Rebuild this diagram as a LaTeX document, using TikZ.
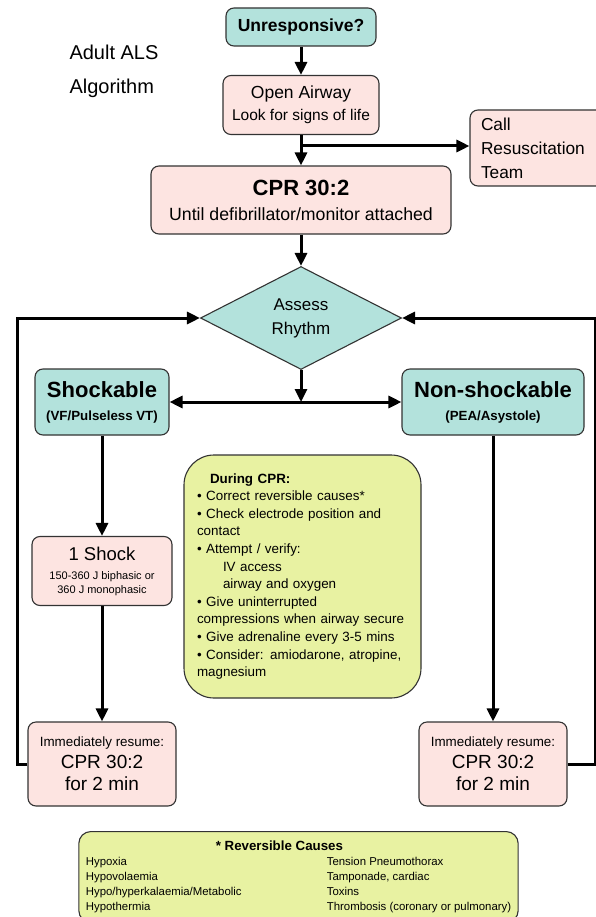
\documentclass[tikz,border=0pt]{standalone}
\usepackage{fontspec}
\setmainfont{Liberation Sans}
\usepackage{xcolor}
\usetikzlibrary{arrows.meta, shapes.geometric}
\definecolor{tealbox}{HTML}{B3E2DC}
\definecolor{pinkbox}{HTML}{FDE4E1}
\definecolor{limebox}{HTML}{E8F2A2}
\definecolor{rim}{HTML}{333333}

\begin{document}
\begin{tikzpicture}[x=1pt,y=-1pt]
	\tikzset{box/.style = {draw=rim, line width=1.1pt, rounded corners=8pt, inner sep=0pt, align=center}}
	\tikzset{tealnode/.style = {box, fill=tealbox}}
	\tikzset{pinknode/.style = {box, fill=pinkbox}}
	\tikzset{limenode/.style = {box, fill=limebox}}
	\tikzset{edge/.style = {line width=3pt, -{Triangle[length=13pt,width=12pt]}}}

	\useasboundingbox (0,0) rectangle (596,917);

	\node[anchor=west, font=\fontsize{20}{24}\selectfont] (Title_1) at (66,52) {Adult ALS};
	\node[anchor=west, font=\fontsize{20}{24}\selectfont] (Title_2) at (66,88) {Algorithm};

	\node[tealnode, minimum width=150pt, minimum height=38pt, font=\bfseries\fontsize{17.5}{20}\selectfont] (Unresp) at (301,27) {Unresponsive?};
	\node[pinknode, minimum width=156pt, minimum height=59pt, font=\fontsize{15.5}{22}\selectfont] (Airway) at (301,105) {{\fontsize{17.5}{22}\selectfont Open Airway}\\Look for signs of life};
	\node[pinknode, minimum height=76pt, text width=115pt, inner xsep=11pt, align=left, font=\fontsize{17.3}{24}\selectfont] (Call) at (538.5,148) {Call\\Resuscitation\\Team};
	\node[pinknode, minimum width=300pt, minimum height=68pt, font=\fontsize{17.7}{25}\selectfont] (CPR) at (301,200) {{\bfseries\fontsize{22}{25}\selectfont CPR 30:2}\\Until defibrillator/monitor attached};

	\node[diamond, draw=rim, fill=tealbox, line width=1.1pt, minimum width=201pt, minimum height=103pt, inner sep=0pt, align=center, font=\fontsize{17}{24}\selectfont] (Rhythm) at (301,318) {Assess\\Rhythm};

	\node[tealnode, minimum width=134pt, minimum height=66pt, font=\bfseries\fontsize{13.3}{23}\selectfont] (Shock) at (102,402) {{\fontsize{22}{23}\selectfont Shockable}\\(VF/Pulseless VT)};
	\node[tealnode, minimum width=182pt, minimum height=66pt, font=\bfseries\fontsize{13.3}{23}\selectfont] (NonShock) at (493,402) {{\fontsize{22}{23}\selectfont Non-shockable}\\(PEA/Asystole)};

	\node[pinknode, minimum width=140pt, minimum height=69pt, font=\fontsize{11}{14}\selectfont] (S_1) at (102,571) {{\fontsize{18.5}{20}\selectfont 1 Shock}\\[5pt]150-360 J biphasic or\\360 J monophasic};

	\node[limenode, rounded corners=30pt, minimum height=243pt, text width=211pt, inner xsep=13pt, align=left, font=\fontsize{13.4}{17.6}\selectfont] (During) at (302.5,576.5) {%
		\hspace*{13pt}\textbf{During CPR:}\\
		• Correct reversible causes*\\
		• Check electrode position and\\
		contact\\
		• Attempt / verify:\\
		\hspace*{26pt}IV access\\
		\hspace*{26pt}airway and oxygen\\
		• Give uninterrupted\\
		compressions when airway secure\\
		• Give adrenaline every 3-5 mins\\
		• Consider: amiodarone, atropine,\\
		magnesium};

	\node[pinknode, minimum width=148pt, minimum height=84pt, font=\fontsize{19}{22}\selectfont] (R_1) at (102,764) {{\fontsize{13.4}{22}\selectfont Immediately resume:}\\CPR 30:2\\for 2 min};
	\node[pinknode, minimum width=148pt, minimum height=84pt, font=\fontsize{19}{22}\selectfont] (R_2) at (493,764) {{\fontsize{13.4}{22}\selectfont Immediately resume:}\\CPR 30:2\\for 2 min};

	\node[limenode, rounded corners=12pt, anchor=north, inner xsep=7pt, inner ysep=8pt, align=left, font=\fontsize{11.4}{15}\selectfont] (Causes) at (298.5,831) {%
		\begin{tabular}{@{}p{241pt}@{}l@{}}
		\multicolumn{2}{@{}l@{}}{\hspace*{130pt}\textbf{\fontsize{13.3}{16}\selectfont * Reversible Causes}}\\
		Hypoxia & Tension Pneumothorax\\
		Hypovolaemia & Tamponade, cardiac\\
		Hypo/hyperkalaemia/Metabolic & Toxins\\
		Hypothermia & Thrombosis (coronary or pulmonary)
		\end{tabular}};

	\coordinate (Branch) at (301,146);
	\coordinate (Mid) at (301,402);
	\coordinate (Loop_L) at (17,318);
	\coordinate (Loop_R) at (595,318);

	\draw[edge] (Unresp) -- (Airway);
	\draw[edge] (Airway) -- (CPR);
	\draw[edge] (Branch) -- (Call.west |- Branch);
	\draw[edge] (CPR) -- (Rhythm);
	\draw[edge] (Rhythm) -- (Mid);
	\draw[edge] (Mid) -- (Shock);
	\draw[edge] (Mid) -- (NonShock);
	\draw[edge] (Shock) -- (S_1);
	\draw[edge] (S_1) -- (R_1);
	\draw[edge] (NonShock) -- (R_2);

	\draw[edge] (R_1.west) -| (Loop_L) -- (Rhythm.west);
	\draw[edge] (R_2.east) -| (Loop_R) -- (Rhythm.east);

\end{tikzpicture}
\end{document}
